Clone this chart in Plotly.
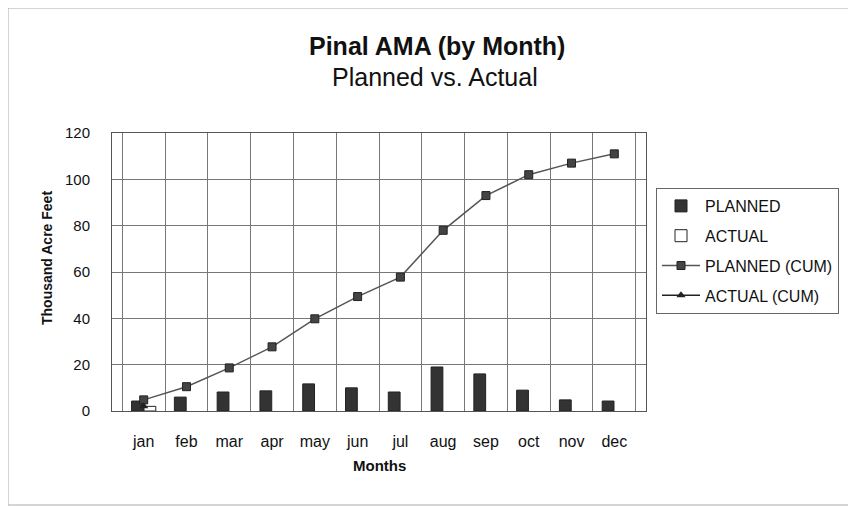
import plotly.graph_objects as go

months = ["jan", "feb", "mar", "apr", "may", "jun", "jul", "aug", "sep", "oct", "nov", "dec"]
planned = [4.3, 6, 8.2, 8.7, 11.7, 10, 8.2, 19, 16, 9, 4.8, 4.3]
actual = [2, None, None, None, None, None, None, None, None, None, None, None]
planned_cum = [4.8, 10.5, 18.6, 27.7, 39.8, 49.4, 57.8, 78, 93, 102, 107, 111]
actual_cum = [2, None, None, None, None, None, None, None, None, None, None, None]
y_ticks = [0, 20, 40, 60, 80, 100, 120]

FONT = "Liberation Sans, Arial, sans-serif"
INK = "#111111"

W, H = 848, 498
L, T = 104, 125
PW, PH = 534, 278
R = W - L - PW
B = H - T - PH

fig = go.Figure()
fig.add_trace(go.Bar(x=months, y=planned, name="PLANNED", legendgroup="a",
                     marker=dict(color="#333333", line=dict(color="#222222", width=1))))
fig.add_trace(go.Bar(x=months, y=actual, name="ACTUAL", legendgroup="b",
                     marker=dict(color="white", line=dict(color="#222222", width=1))))
fig.add_trace(go.Scatter(x=months, y=planned_cum, name="PLANNED (CUM)", mode="lines+markers",
                         legendgroup="c",
                         line=dict(color="#555555", width=1.5),
                         marker=dict(symbol="square", size=8, color="#444444",
                                     line=dict(color="#222222", width=1))))
fig.add_trace(go.Scatter(x=months, y=actual_cum, name="ACTUAL (CUM)", mode="lines+markers",
                         legendgroup="d",
                         line=dict(color="#222222", width=1.5),
                         marker=dict(symbol="triangle-up", size=8, color="#222222")))

fig.update_layout(
    width=W, height=H,
    paper_bgcolor="white", plot_bgcolor="white",
    margin=dict(l=L, r=R, t=T, b=B, pad=0),
    font=dict(family=FONT, size=15, color=INK),
    barmode="group", bargap=0.42, bargroupgap=0.05,
    showlegend=True,
    legend=dict(x=544 / PW, y=(411 - 188) / PH, xanchor="left", yanchor="top",
                bordercolor="#666666", borderwidth=1, bgcolor="white",
                font=dict(family=FONT, size=16, color=INK),
                tracegroupgap=6, itemwidth=38),
    annotations=[
        dict(text="<b>Pinal AMA (by Month)</b>", x=(437 - 112) / PW, y=1.0, xref="paper", yref="paper",
             yshift=133 - 46, showarrow=False, font=dict(family=FONT, size=25, color=INK),
             xanchor="center", yanchor="middle"),
        dict(text="Planned vs. Actual", x=(435 - 112) / PW, y=1.0, xref="paper", yref="paper",
             yshift=133 - 77, showarrow=False, font=dict(family=FONT, size=25, color=INK),
             xanchor="center", yanchor="middle"),
        dict(text="<b>Months</b>", x=0.5, y=0, xref="paper", yref="paper",
             yshift=-(465 - 411), showarrow=False, font=dict(family=FONT, size=15, color=INK),
             xanchor="center", yanchor="middle"),
        dict(text="<b>Thousand Acre Feet</b>", x=0, y=(411 - 258) / PH, xref="paper", yref="paper",
             xshift=-(112 - 47), showarrow=False, textangle=-90,
             font=dict(family=FONT, size=14, color=INK),
             xanchor="center", yanchor="middle"),
    ],
)
fig.update_xaxes(
    tickson="boundaries", showgrid=True, gridcolor="#777777", gridwidth=1,
    showline=True, linecolor="#555555", linewidth=1, mirror=True,
    ticks="", ticklabelstandoff=16, tickfont=dict(family=FONT, size=16, color=INK),
)
fig.update_yaxes(
    range=[0, 120], tickvals=y_ticks, showgrid=True, gridcolor="#777777", gridwidth=1,
    showline=True, linecolor="#555555", linewidth=1, mirror=True, zeroline=False,
    ticks="", ticklabelstandoff=18, tickfont=dict(family=FONT, size=15, color=INK),
)
fig.add_shape(type="rect", xref="paper", yref="paper", x0=-L / PW, x1=1 + (R - 1) / PW,
              y0=-(B - 1) / PH, y1=1 + T / PH, line=dict(color="#aaaaaa", width=1), layer="below")

fig.write_html("out.html")
